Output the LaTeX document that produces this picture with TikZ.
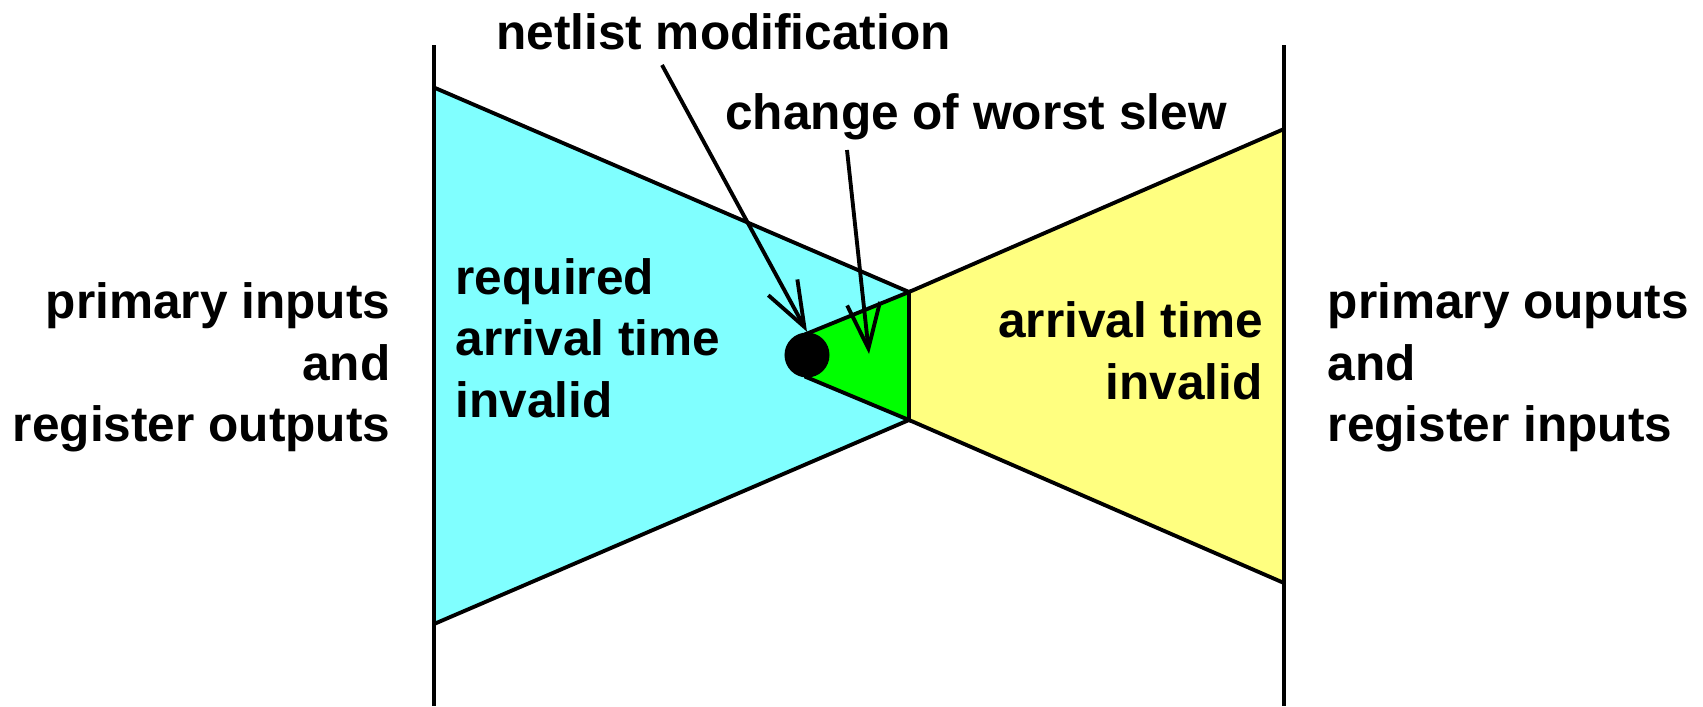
\documentclass[tikz,border=0pt]{standalone}
\usepackage{fontspec}
\setmainfont{Liberation Sans}
\usetikzlibrary{arrows.meta}
\definecolor{cyanfill}{HTML}{80FFFF}
\definecolor{yellowfill}{HTML}{FFFF80}
\definecolor{greenfill}{HTML}{00FF00}
\tikzset{
  region/.style={draw=black, line width=1.1pt, line join=miter},
  wall/.style={draw=black, line width=1.1pt},
  dotnode/.style={circle, fill=black, inner sep=0pt, minimum size=0.45cm},
  pointer/.style={draw=black, line width=1.1pt, -{Straight Barb[length=12.8pt,width=9.4pt]}},
  lbl/.style={font=\bfseries\fontsize{14.1pt}{17.5pt}\selectfont, inner sep=0pt}
}
\begin{document}
\begin{tikzpicture}[x=0.01cm,y=-0.01cm]
\useasboundingbox (0,0) rectangle (1703,706);
\coordinate (LT) at (434,45);
\coordinate (LB) at (434,706);
\coordinate (RT) at (1284,45);
\coordinate (RB) at (1284,706);
\coordinate (C1) at (434,87.5);
\coordinate (C2) at (434,624);
\coordinate (T) at (909,292);
\coordinate (B) at (909,420);
\coordinate (Y1) at (1284,129);
\coordinate (Y2) at (1284,583);
\coordinate (G1) at (806,334);
\coordinate (G2) at (806,377);
\filldraw[region, fill=cyanfill] (C1) -- (T) -- (B) -- (C2) -- cycle;
\filldraw[region, fill=yellowfill] (Y1) -- (T) -- (B) -- (Y2) -- cycle;
\filldraw[region, fill=greenfill] (G1) -- (T) -- (B) -- (G2) -- cycle;
\node[dotnode] (dot) at (807,355) {};
\draw[wall] (LT) -- (LB);
\draw[wall] (RT) -- (RB);
% labels
\node[lbl, anchor=base] (netlbl) at (723.5,49) {netlist modification};
\node[lbl, anchor=base] (slewlbl) at (976,129) {change of worst slew};
\node[lbl, anchor=east, align=right] (leftlbl) at (391,367.5) {primary inputs\\and\\register outputs};
\node[lbl, anchor=west, align=left] (rightlbl) at (1327,367.5) {primary ouputs\\and\\register inputs};
\node[lbl, anchor=west, align=left] (reqlbl) at (455,338) {required\\arrival time\\invalid};
\node[lbl, anchor=east, align=right] (arrlbl) at (1263.5,351) {arrival time\\invalid};
% arrows
\coordinate (nstart) at (662,65);
\coordinate (sstart) at (847,150);
\coordinate (stip) at (869,354);
\draw[pointer] (nstart) -- (dot.north);
\draw[pointer] (sstart) -- (stip);
\end{tikzpicture}
\end{document}
